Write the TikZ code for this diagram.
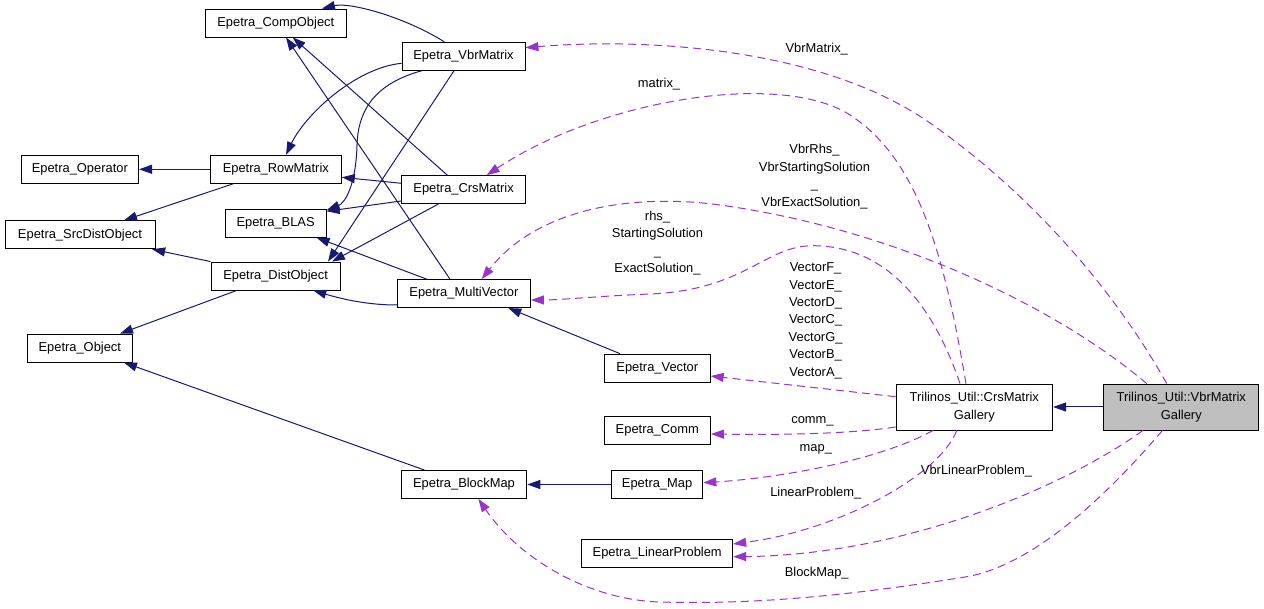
\documentclass[tikz,border=0pt]{standalone}
\usepackage{fontspec}
\setmainfont{Liberation Sans}
\usetikzlibrary{arrows.meta,calc}
\definecolor{navy}{RGB}{25,25,112}
\definecolor{orchid}{RGB}{154,50,205}
\definecolor{boxgray}{RGB}{191,191,191}
\begin{document}
\begin{tikzpicture}[x=1pt,y=-1pt,
  every node/.style={font=\fontsize{12.9}{17.4}\selectfont, inner sep=0pt},
  cls/.style={draw=black, line width=0.9pt, fill=white, minimum height=28pt, align=center},
  inh/.style={draw=navy, line width=1pt, -{Triangle[length=13pt,width=9pt]}},
  use/.style={draw=orchid, line width=1pt, dash pattern=on 8pt off 5pt, -{Triangle[length=13pt,width=9pt]}},
  lbl/.style={align=center}
]
\fill[white] (0,0) rectangle (1264,609);
\useasboundingbox (0,0) rectangle (1264,609);

% classes
\node[cls, minimum width=140.3pt] (comp) at (275.8,23) {Epetra\_CompObject};
\node[cls, minimum width=123pt] (vbrm) at (463.5,56.3) {Epetra\_VbrMatrix};
\node[cls, minimum width=117.5pt] (oper) at (79.8,169.3) {Epetra\_Operator};
\node[cls, minimum width=131pt] (rowm) at (275.8,169.3) {Epetra\_RowMatrix};
\node[cls, minimum width=123.8pt] (crsm) at (463.6,189.6) {Epetra\_CrsMatrix};
\node[cls, minimum width=101.3pt] (blas) at (275.6,223.2) {Epetra\_BLAS};
\node[cls, minimum width=150pt] (srcd) at (80,234.8) {Epetra\_SrcDistObject};
\node[cls, minimum width=129.3pt] (dist) at (275.6,276) {Epetra\_DistObject};
\node[cls, minimum width=133.2pt] (mvec) at (463.9,293.6) {Epetra\_MultiVector};
\node[cls, minimum width=105.7pt] (obj) at (79.8,348.1) {Epetra\_Object};
\node[cls, minimum width=125.6pt] (bmap) at (464,484.5) {Epetra\_BlockMap};
\node[cls, minimum width=105.8pt] (vec) at (657.3,368.1) {Epetra\_Vector};
\node[cls, minimum width=106.3pt] (comm) at (657.3,430.8) {Epetra\_Comm};
\node[cls, minimum width=91.6pt] (map) at (657.1,484.5) {Epetra\_Map};
\node[cls, minimum width=151pt] (linp) at (657.2,553.6) {Epetra\_LinearProblem};
\node[cls, minimum width=156.6pt, minimum height=46pt] (crsg) at (974.3,407) {Trilinos\_Util::CrsMatrix\\Gallery};
\node[cls, fill=boxgray, minimum width=155pt, minimum height=46pt] (vbrg) at (1181.3,407) {Trilinos\_Util::VbrMatrix\\Gallery};

% inheritance
\draw[inh] ($(vbrm.north)+(-19.2,0)$) .. controls (405,17) and (350,2) .. ($(comp.north)+(46.2,0)$);
\draw[inh] ($(vbrm.west)+(0,7)$) .. controls (355,68) and (305,115) .. ($(rowm.north)+(10.2,0)$);
\draw[inh] ($(vbrm.south)+(-41.8,0)$) .. controls (370,85) and (358,115) .. (357,145) .. controls (356,185) and (345,203) .. ($(blas.north east)+(0,1.5)$);
\draw[inh] ($(vbrm.south)+(-9.5,0)$) -- ($(dist.north)+(52.4,0)$);
\draw[inh] ($(crsm.north)+(-16.3,0)$) -- ($(comp.south)+(16.9,0)$);
\draw[inh] ($(crsm.west)+(0,-6.3)$) -- ($(rowm.east)+(0,8)$);
\draw[inh] ($(crsm.west)+(0,11.4)$) -- ($(blas.north east)+(0,2.5)$);
\draw[inh] ($(crsm.south)+(-25.3,0)$) -- ($(dist.north)+(56.4,0)$);
\draw[inh] ($(mvec.north)+(-13.9,0)$) -- ($(comp.south)+(10.2,0)$);
\draw[inh] ($(mvec.north)+(-37.2,0)$) -- ($(blas.south)+(41,0)$);
\draw[inh] ($(mvec.west)+(0,11.4)$) .. controls (370,305) and (345,300) .. ($(dist.south)+(37.7,0)$);
\draw[inh] (rowm.west) -- (oper.east);
\draw[inh] ($(rowm.south)+(-42.5,0)$) -- ($(srcd.north)+(44,0)$);
\draw[inh] (dist.north west) -- ($(srcd.south east)+(-3.3,0)$);
\draw[inh] ($(dist.south)+(-38.9,0)$) -- ($(obj.north)+(40.2,0)$);
\draw[inh] ($(bmap.north)+(-39.5,0)$) -- ($(obj.south)+(44.2,0)$);
\draw[inh] ($(vec.north)+(-37.3,0)$) -- ($(mvec.south)+(44.4,0)$);
\draw[inh] (map.west) -- (bmap.east);
\draw[inh] (vbrg.west) -- (crsg.east);

% usage
\draw[use] ($(vbrg.north)+(-14.6,0)$) .. controls (1120,300) and (1040,200) .. (930,123) .. controls (820,46) and (640,38) .. ($(vbrm.east)+(0,-8.6)$);
\draw[use] ($(crsg.north)+(-8.3,0)$) .. controls (945,260) and (920,160) .. (850,115) .. controls (780,70) and (600,100) .. ($(crsm.north)+(23.1,0)$);
\draw[use] ($(crsg.north)+(-14.3,0)$) .. controls (935,310) and (890,246) .. (813,245.7) .. controls (765,245.7) and (745,290) .. (650,294) .. controls (600,296) and (560,300) .. ($(mvec.east)+(0,6.4)$);
\draw[use] ($(vbrg.north)+(-34.6,0)$) .. controls (1060,310) and (900,230) .. (720,205) .. controls (640,194) and (540,205) .. ($(mvec.north)+(17.8,0)$);
\draw[use] ($(crsg.west)+(0,-10.3)$) -- ($(vec.east)+(0,7.9)$);
\draw[use] ($(crsg.west)+(0,20)$) .. controls (850,434) and (780,435) .. ($(comm.east)+(0,3.2)$);
\draw[use] ($(crsg.south)+(-41.3,0)$) .. controls (880,460) and (780,478) .. ($(map.east)+(0,-1.8)$);
\draw[use] ($(crsg.south)+(-17.6,0)$) .. controls (940,475) and (840,530) .. ($(linp.east)+(0,-9.6)$);
\draw[use] ($(vbrg.south)+(-38.3,0)$) .. controls (1060,490) and (900,555) .. ($(linp.east)+(0,3.1)$);
\draw[use] ($(vbrg.south)+(-18.8,0)$) .. controls (1120,480) and (1040,565) .. (965,577) .. controls (860,594) and (760,605) .. (660,602) .. controls (590,600) and (520,560) .. ($(bmap.south)+(14.4,0)$);

% labels
\node[lbl] (lVbrMatrix) at (816.7,49) {VbrMatrix\_};
\node[lbl] (lmatrix) at (659,84.5) {matrix\_};
\node[lbl] (lVbrRhs) at (814.5,176.6) {VbrRhs\_\\VbrStartingSolution\\\_\\VbrExactSolution\_};
\node[lbl] (lrhs) at (657.5,243.3) {rhs\_\\StartingSolution\\\_\\ExactSolution\_};
\node[lbl] (lvec) at (815.6,320.7) {VectorF\_\\VectorE\_\\VectorD\_\\VectorC\_\\VectorG\_\\VectorB\_\\VectorA\_};
\node (lcomm) at (812.5,421.2) {comm\_};
\node (lmap) at (815.8,449.5) {map\_};
\node (lvlp) at (976.5,471.2) {VbrLinearProblem\_};
\node (llp) at (815.8,493) {LinearProblem\_};
\node (lbm) at (816.7,573) {BlockMap\_};
\end{tikzpicture}
\end{document}
